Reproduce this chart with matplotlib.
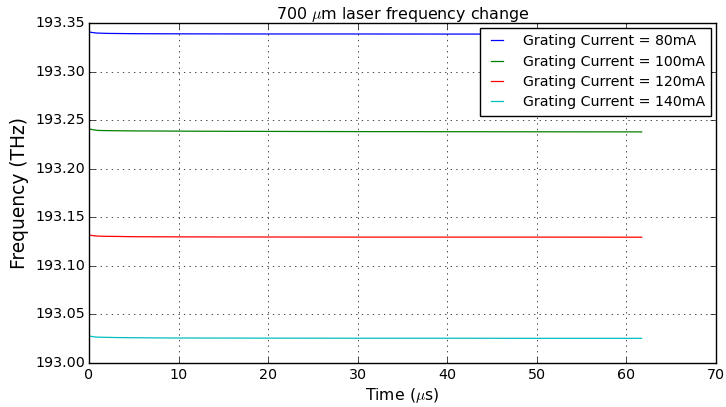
import matplotlib
matplotlib.use("Agg")
import matplotlib.pyplot as plt

plt.style.use("classic")

# Sampled time axis (microseconds) and frequency readings (THz)
time_us = [0.0, 0.5, 1.0, 2.0, 3.0, 5.0, 8.0, 12.0, 20.0, 30.0, 40.0, 50.0, 61.7]
freq_80mA = [193.3408, 193.3400, 193.3396, 193.3393, 193.3392, 193.3390, 193.3389,
             193.3388, 193.3387, 193.3387, 193.3386, 193.3386, 193.3386]
freq_100mA = [193.2410, 193.2400, 193.2394, 193.2392, 193.2391, 193.2389, 193.2388,
              193.2386, 193.2384, 193.2382, 193.2381, 193.2380, 193.2379]
freq_120mA = [193.1318, 193.1310, 193.1306, 193.1304, 193.1303, 193.1300, 193.1299,
              193.1298, 193.1297, 193.1296, 193.1296, 193.1296, 193.1295]
freq_140mA = [193.0278, 193.0270, 193.0266, 193.0264, 193.0262, 193.0260, 193.0258,
              193.0257, 193.0256, 193.0255, 193.0255, 193.0254, 193.0254]

series = [
    (freq_80mA, "b", "Grating Current = 80mA"),
    (freq_100mA, "g", "Grating Current = 100mA"),
    (freq_120mA, "r", "Grating Current = 120mA"),
    (freq_140mA, "c", "Grating Current = 140mA"),
]

fig = plt.figure(figsize=(7.26, 4.07), dpi=100, facecolor="white")
ax = fig.add_axes([89 / 726, 1 - 363 / 407, (716 - 89) / 726, (363 - 23) / 407])

for values, color, label in series:
    ax.plot(time_us, values, color=color, lw=0.9, label=label)

ax.set_xlim(0, 70)
ax.set_ylim(193.00, 193.35)
ax.set_xticks(range(0, 71, 10))
ax.set_yticks([193.00, 193.05, 193.10, 193.15, 193.20, 193.25, 193.30, 193.35])
ax.yaxis.set_major_formatter(matplotlib.ticker.FormatStrFormatter("%.2f"))
ax.tick_params(labelsize=10.3, length=4)
ax.tick_params(axis="y", pad=3)
ax.tick_params(axis="x", pad=3.5)
ax.grid(True)

ax.set_title(r"700 $\mu$m laser frequency change", fontsize=11.4, pad=3)
ax.set_xlabel(r"Time ($\mu$s)", fontsize=11.3, labelpad=3)
ax.set_ylabel("Frequency (THz)", fontsize=13.4, labelpad=4)

ax.legend(loc="upper right", fontsize=10.2, handlelength=1.45, handletextpad=1.1,
          labelspacing=0.45, borderaxespad=0.35, borderpad=0.45)

fig.savefig("out.png", dpi=100, facecolor="white")
